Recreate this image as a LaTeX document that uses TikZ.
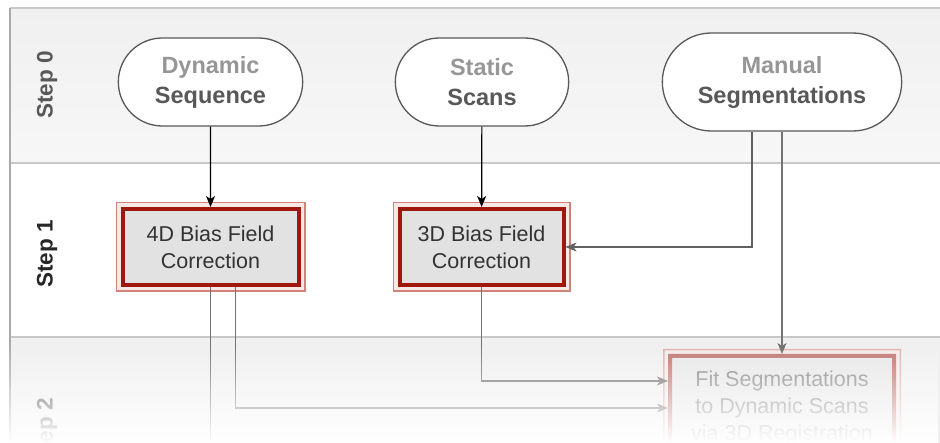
\documentclass[tikz,border=0pt]{standalone}
\usepackage{fontspec}
\setmainfont{Liberation Sans}
\usepackage{tikz}
\definecolor{redd}{RGB}{158, 24, 14}
\definecolor{redm}{RGB}{210, 130, 122}
\definecolor{redp}{RGB}{248, 232, 230}
\definecolor{boxfill}{RGB}{226, 226, 226}
\definecolor{txtlight}{RGB}{150, 150, 150}
\definecolor{txtdark}{RGB}{88, 88, 88}
\definecolor{laneline}{RGB}{200, 200, 200}
\definecolor{frameline}{RGB}{170, 170, 170}
\definecolor{lanetop}{RGB}{240, 240, 240}
\definecolor{lanebot}{RGB}{247, 247, 247}
\usetikzlibrary{shapes.misc}
\usetikzlibrary{arrows.meta}
\usetikzlibrary{fadings}
\tikzfading[name=fadedown, top color=transparent!100, bottom color=transparent!0]

\begin{document}
\begin{tikzpicture}[
  source/.style={rounded rectangle, fill=white, draw=txtdark, line width=1.3pt, align=center, text=txtdark, font=\fontsize{23.5}{30}\selectfont\bfseries},
  procbox/.style={rectangle, fill=boxfill, draw=redd, line width=4pt, align=center, text=black!80, font=\fontsize{21.5}{27}\selectfont, preaction={draw=redm, line width=14pt}, preaction={draw=redp, line width=11pt}},
  steplabel/.style={rotate=90, font=\fontsize{22.5}{26}\selectfont\bfseries},
  link/.style={line width=1.2pt, -{Stealth[length=11pt, width=9pt, inset=3pt]}}]
\clip (0pt, 0pt) rectangle (940pt, -443pt);
\fill [white] (0pt, 0pt) rectangle (940pt, -443pt);
\shade [top color=lanetop, bottom color=lanebot] (10pt, -8pt) rectangle (940pt, -163pt);
\fill [lanetop] (10pt, -337pt) rectangle (940pt, -443pt);
\draw [laneline, line width=1.2pt] (10pt, -8pt) -- (940pt, -8pt);
\draw [laneline, line width=1.4pt] (10pt, -163pt) -- (940pt, -163pt);
\draw [laneline, line width=1.4pt] (10pt, -337pt) -- (940pt, -337pt);
\draw [frameline, line width=1.2pt] (10pt, -8pt) -- (10pt, -443pt);
\node (s0) [steplabel, text=txtdark] at (47pt, -85pt) {Step 0};
\node (s1) [steplabel, text=black!85] at (47pt, -254pt) {Step 1};
\node (s2) [steplabel, text=txtdark] at (47pt, -432pt) {Step 2};
\node (1) [source, minimum width=191pt, minimum height=88pt] at (210.5pt, -82pt) {\textcolor{txtlight}{Dynamic}\\Sequence};
\node (2) [source, minimum width=180pt, minimum height=88pt] at (482pt, -82pt) {\textcolor{txtlight}{Static}\\Scans};
\node (3) [source, minimum width=246pt, minimum height=98pt] at (782pt, -82pt) {\textcolor{txtlight}{Manual}\\Segmentations};
\node (4) [procbox, minimum width=176pt, minimum height=76pt] at (210.5pt, -247pt) {4D Bias Field\\Correction};
\node (5) [procbox, minimum width=164pt, minimum height=76pt] at (481.5pt, -247pt) {3D Bias Field\\Correction};
\begin{scope}[transparency group, opacity=0.55]
\node (6) [procbox, minimum width=224pt, minimum height=104pt] at (782pt, -408pt) {Fit Segmentations\\to Dynamic Scans\\via 3D Registration};
\end{scope}
\coordinate (7) at (210.5pt, -460pt);
\draw [link, color=black] (1) to (4);
\draw [link, color=black] (2) to (5);
\draw [link, color=black!62] ([xshift=-30pt]3.south) |- (5.east);
\draw [link, color=black!55] ([xshift=0pt]3.south) to (6.north);
\draw [link, color=black!55] (5.south) |- ([yshift=27pt]6.west);
\draw [link, color=black!55] ([xshift=25pt]4.south) |- (6.west);
\draw [line width=1.2pt, color=black!55] (4.south) to (7);
\fill [white, path fading=fadedown] (0pt, -345pt) rectangle (940pt, -443pt);
\end{tikzpicture}
\end{document}
